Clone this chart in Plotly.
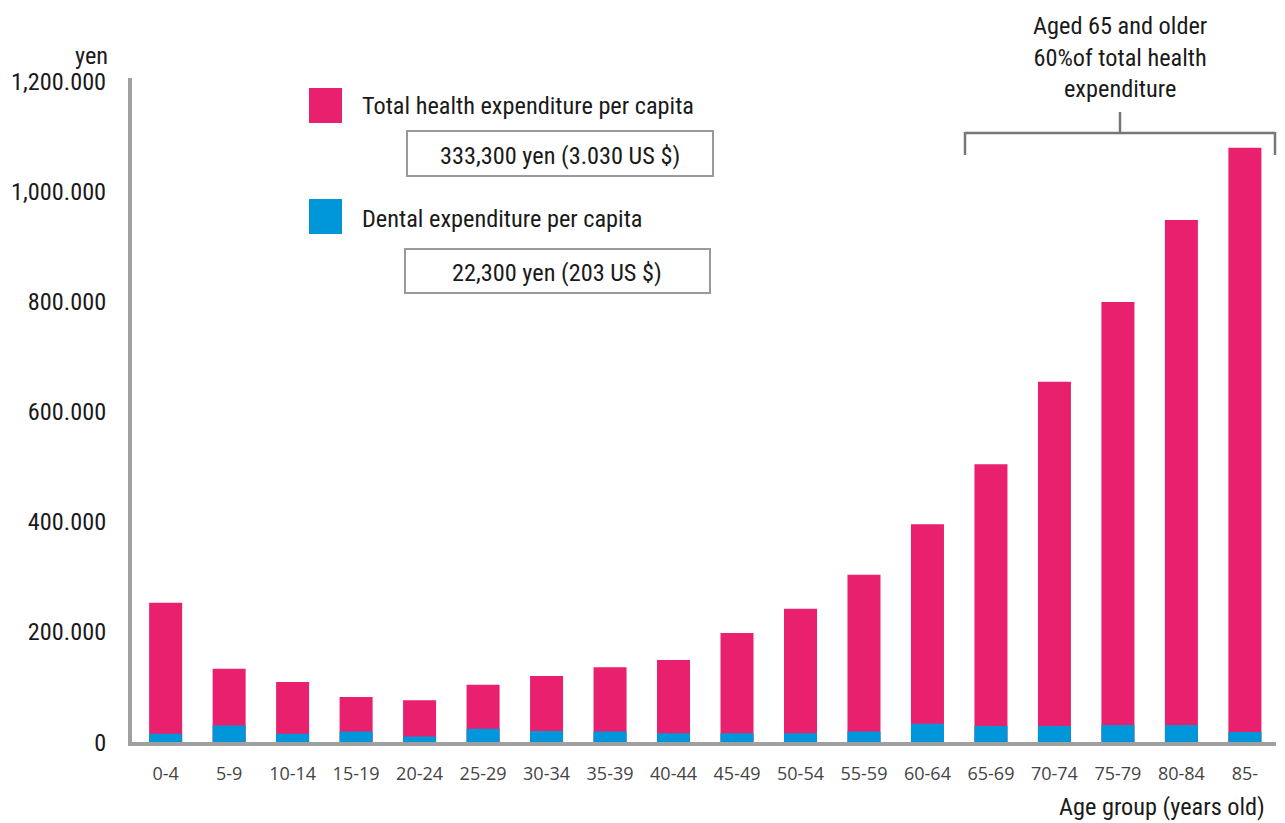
import plotly.graph_objects as go

# ---- data (yen per capita) ----
age_groups = ["0-4", "5-9", "10-14", "15-19", "20-24", "25-29", "30-34", "35-39",
              "40-44", "45-49", "50-54", "55-59", "60-64", "65-69", "70-74",
              "75-79", "80-84", "85-"]
total_health = [253000, 133000, 109000, 82000, 76000, 104000, 120000, 136000,
                149000, 198000, 242000, 304000, 396000, 505000, 655000,
                800000, 949000, 1080000]
dental = [15000, 30000, 15000, 19000, 10000, 24000, 20000, 19000,
          16000, 16000, 16000, 19000, 33000, 29000, 29000,
          31000, 31000, 18000]
y_tickvals = [0, 200000, 400000, 600000, 800000, 1000000, 1200000]
y_ticktext = ["0", "200.000", "400.000", "600.000", "800.000", "1,000.000", "1,200.000"]

# ---- layout geometry ----
W, H = 1285, 823
L, R, T, B = 132, 9, 78, 81
PW, PH = W - L - R, H - T - B

PINK = "#E8206E"
BLUE = "#0096DA"
GRAY = "#A0A0A0"
FONT = "Roboto Condensed, DejaVu Sans Condensed, Liberation Sans Narrow, Roboto, sans-serif"
FS = 24.3


def px(x):
    return (x - L) / PW


def py(y):
    return (H - B - y) / PH


fig = go.Figure()
fig.add_trace(go.Bar(x=age_groups, y=total_health, marker_color=PINK,
                     marker_line_width=0, name="Total health expenditure per capita"))
fig.add_trace(go.Bar(x=age_groups, y=dental, marker_color=BLUE,
                     marker_line_width=0, name="Dental expenditure per capita"))

fig.update_layout(
    width=W, height=H,
    margin=dict(l=L, r=R, t=T, b=B, pad=0),
    paper_bgcolor="white", plot_bgcolor="white",
    barmode="overlay", bargap=0.48,
    showlegend=False,
    font=dict(family=FONT, color="#1a1a1a"),
)
fig.update_xaxes(
    type="category", range=[-0.53, 17.49],
    showline=True, linecolor=GRAY, linewidth=4,
    showgrid=False, zeroline=False, ticks="",
    tickfont=dict(family="Open Sans, sans-serif", size=18, color="#444"),
    ticklabelstandoff=12, automargin=False,
)
fig.update_yaxes(
    range=[0, 1207000],
    tickvals=y_tickvals, ticktext=y_ticktext,
    showline=True, linecolor=GRAY, linewidth=4,
    showgrid=False, zeroline=False, ticks="",
    tickfont=dict(family=FONT, size=FS, color="#1a1a1a"),
    ticklabelstandoff=17, automargin=False,
)

shapes = []
annotations = []

# legend squares
shapes.append(dict(type="rect", xref="paper", yref="paper",
                   x0=px(309), x1=px(342), y0=py(123), y1=py(88),
                   fillcolor=PINK, line_width=0))
shapes.append(dict(type="rect", xref="paper", yref="paper",
                   x0=px(309), x1=px(342), y0=py(234), y1=py(199),
                   fillcolor=BLUE, line_width=0))
annotations.append(dict(xref="paper", yref="paper", x=px(360), y=py(106),
                        xanchor="left", yanchor="middle", showarrow=False,
                        text="Total health expenditure per capita",
                        font=dict(family=FONT, size=FS, color="#1a1a1a")))
annotations.append(dict(xref="paper", yref="paper", x=px(360), y=py(219),
                        xanchor="left", yanchor="middle", showarrow=False,
                        text="Dental expenditure per capita",
                        font=dict(family=FONT, size=FS, color="#1a1a1a")))

# value boxes
shapes.append(dict(type="rect", xref="paper", yref="paper",
                   x0=px(407), x1=px(713), y0=py(176), y1=py(131),
                   line=dict(color="#9a9a9a", width=2), fillcolor="rgba(0,0,0,0)"))
shapes.append(dict(type="rect", xref="paper", yref="paper",
                   x0=px(405), x1=px(710), y0=py(293), y1=py(249),
                   line=dict(color="#9a9a9a", width=2), fillcolor="rgba(0,0,0,0)"))
annotations.append(dict(xref="paper", yref="paper", x=px(560), y=py(155),
                        xanchor="center", yanchor="middle", showarrow=False,
                        text="333,300 yen (3.030 US $)",
                        font=dict(family=FONT, size=FS, color="#1a1a1a")))
annotations.append(dict(xref="paper", yref="paper", x=px(557), y=py(272),
                        xanchor="center", yanchor="middle", showarrow=False,
                        text="22,300 yen (203 US $)",
                        font=dict(family=FONT, size=FS, color="#1a1a1a")))

# bracket for 65+
BR = dict(color="#777777", width=2.5)
shapes.append(dict(type="line", xref="paper", yref="paper",
                   x0=px(965), x1=px(1275), y0=py(133), y1=py(133), line=BR))
shapes.append(dict(type="line", xref="paper", yref="paper",
                   x0=px(965), x1=px(965), y0=py(132), y1=py(155), line=BR))
shapes.append(dict(type="line", xref="paper", yref="paper",
                   x0=px(1275), x1=px(1275), y0=py(132), y1=py(155), line=BR))
shapes.append(dict(type="line", xref="paper", yref="paper",
                   x0=px(1120), x1=px(1120), y0=py(112), y1=py(134), line=BR))
annotations.append(dict(xref="paper", yref="paper", x=px(1120), y=py(57),
                        xanchor="center", yanchor="middle", showarrow=False,
                        align="center",
                        text="Aged 65 and older<br>60%of total health<br>expenditure",
                        font=dict(family=FONT, size=FS, color="#1a1a1a")))

# axis titles
annotations.append(dict(xref="paper", yref="paper", x=px(110), y=py(55),
                        xanchor="right", yanchor="middle", showarrow=False,
                        text="yen", font=dict(family=FONT, size=FS, color="#1a1a1a")))
annotations.append(dict(xref="paper", yref="paper", x=px(1267), y=py(806),
                        xanchor="right", yanchor="middle", showarrow=False,
                        text="Age group (years old)",
                        font=dict(family=FONT, size=FS, color="#1a1a1a")))

fig.update_layout(shapes=shapes, annotations=annotations)
fig.write_html("out.html")
